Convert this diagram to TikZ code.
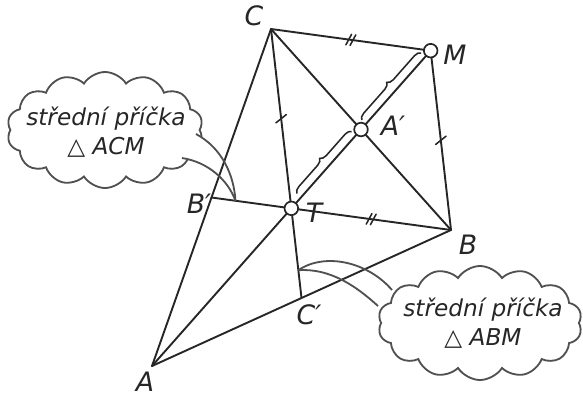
\documentclass[tikz,border=0pt]{standalone}
\usepackage{fontspec}
\setmainfont{DejaVu Sans}
\usetikzlibrary{calc,shapes.symbols,decorations.pathreplacing,decorations.markings}

\definecolor{ink}{HTML}{262626}
\definecolor{cloudgray}{HTML}{505050}

\tikzset{
  ln/.style={draw=ink, line width=1.35pt, line cap=round, line join=round},
  hollow/.style={circle, draw=ink, line width=1.2pt, fill=white, inner sep=0pt, minimum size=0.34cm},
  lbl/.style={text=ink, font=\fontsize{19}{22}\selectfont\itshape, inner sep=0pt},
  bubble/.style={cloud, draw=cloudgray, line width=1.3pt, fill=white, cloud puffs=14, cloud puff arc=115,
    cloud ignores aspect, minimum width=4.9cm, minimum height=2.9cm, inner sep=0pt},
  bubbletext/.style={align=center, text=ink, inner sep=0pt, font=\fontsize{16.5}{21}\selectfont\itshape},
  tail/.style={draw=cloudgray, line width=1.3pt},
  onetick/.style={postaction={decorate, decoration={markings,
    mark=at position 0.5 with {\draw[ink, line width=1.1pt] (2.5pt,-4pt) -- (-2.5pt,4pt);}}}},
  twotick/.style={postaction={decorate, decoration={markings,
    mark=at position 0.5 with {\draw[ink, line width=1.1pt] (-3pt,-4pt) -- (0pt,4pt) (0pt,-4pt) -- (3pt,4pt);}}}},
  brc/.style={draw=ink, line width=1.1pt, decorate, decoration={brace, amplitude=4.5pt, raise=4pt}}
}

\begin{document}
\begin{tikzpicture}[x=0.025cm, y=-0.025cm]
\useasboundingbox (0,0) rectangle (583,397);

% triangle and the points on it
\coordinate (A) at (152,366);
\coordinate (B) at (451,230);
\coordinate (C) at (271,29);
\coordinate (Ap) at ($(B)!0.5!(C)$);
\coordinate (Bp) at ($(A)!0.5!(C)$);
\coordinate (Cp) at ($(A)!0.5!(B)$);
\coordinate (T) at ($(A)!2/3!(Ap)$);
\coordinate (M) at ($(T)!2!(Ap)$);

% clouds
\node[bubble] (cloudL) at (105,130) {};
\node[bubble, minimum width=5.1cm, minimum height=2.85cm] (cloudR) at (480,323) {};

% tails (white part first)
\coordinate (tipL) at ($(Bp)!0.3!(T)$);
\coordinate (tipR) at ($(T)!0.69!(Cp)$);
\fill[white] (tipL) .. controls (234,175) and (222,148) .. (196,134) -- (186,142)
  -- (182,158) .. controls (208,162) and (228,180) .. (tipL);
\fill[white] (tipR) .. controls (325,252) and (368,262) .. (392,290) -- (390,300)
  -- (378,306) .. controls (356,286) and (330,268) .. (tipR);

% cloud texts
\node[bubbletext] (textL) at (106,132) {střední příčka\\△ ACM};
\node[bubbletext] (textR) at (483,323) {střední příčka\\△ ABM};

% lines
\draw[ln] (A) -- (C);
\draw[ln] (A) -- (B);
\draw[ln] (B) -- (C);
\draw[ln] (A) -- (M);
\draw[ln] (Bp) -- (T);
\draw[ln, twotick] (T) -- (B);
\draw[ln, onetick] (C) -- (T);
\draw[ln] (T) -- (Cp);
\draw[ln, twotick] (C) -- (M);
\draw[ln, onetick] (M) -- (B);

% tail outlines
\draw[tail] (tipL) .. controls (234,175) and (222,148) .. (196,134);
\draw[tail] (tipL) .. controls (228,180) and (208,162) .. (182,158);
\draw[tail] (tipR) .. controls (325,252) and (368,262) .. (392,290);
\draw[tail] (tipR) .. controls (330,268) and (356,286) .. (378,306);

% braces
\draw[brc] ($(T)!0.37cm!(Ap)$) -- ($(Ap)!0.19cm!(T)$);
\draw[brc] ($(Ap)!0.19cm!(M)$) -- ($(M)!0.2cm!(Ap)$);

% points
\node[hollow] (nT) at (T) {};
\node[hollow] (nAp) at (Ap) {};
\node[hollow] (nM) at (M) {};

% labels
\node[lbl] (labA) at (145,382) {A};
\node[lbl] (labB) at (468,245) {B};
\node[lbl] (labC) at (254,16) {C};
\node[lbl] (labM) at (455,55) {M};
\node[lbl] (labT) at (314,213) {T};
\node[lbl] (labAp) at (393,126) {A′};
\node[lbl] (labBp) at (199,204) {B′};
\node[lbl] (labCp) at (309,315) {C′};

\end{tikzpicture}
\end{document}
